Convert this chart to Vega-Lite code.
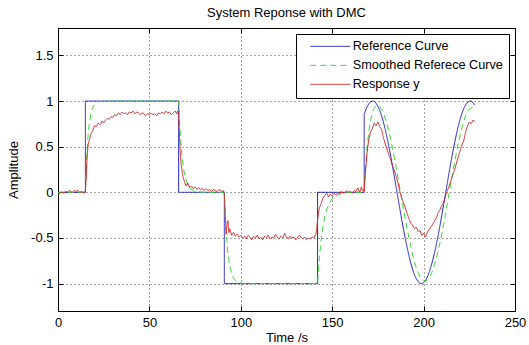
{
  "$schema": "https://vega.github.io/schema/vega-lite/v6.json",
  "width": 457,
  "height": 283,
  "autosize": {"type": "none"},
  "padding": {"left": 58, "top": 28, "right": 14, "bottom": 34},
  "title": {"text": "System Reponse with DMC", "fontSize": 13, "fontWeight": "normal", "color": "black", "offset": 8},
  "data": {"values": [
    {"s":"Reference Curve","t":0,"v":0},{"s":"Reference Curve","t":15,"v":0},{"s":"Reference Curve","t":15,"v":1},{"s":"Reference Curve","t":66,"v":1},{"s":"Reference Curve","t":66,"v":0},{"s":"Reference Curve","t":91,"v":0},{"s":"Reference Curve","t":91,"v":-1},{"s":"Reference Curve","t":142,"v":-1},{"s":"Reference Curve","t":142,"v":0},{"s":"Reference Curve","t":167.5,"v":0},
    {"s":"Reference Curve","t":167.5,"v":0.855},{"s":"Reference Curve","t":168,"v":0.884},{"s":"Reference Curve","t":169,"v":0.933},{"s":"Reference Curve","t":170,"v":0.969},{"s":"Reference Curve","t":171,"v":0.991},{"s":"Reference Curve","t":172,"v":1.0},{"s":"Reference Curve","t":173,"v":0.995},{"s":"Reference Curve","t":174,"v":0.976},{"s":"Reference Curve","t":175,"v":0.943},{"s":"Reference Curve","t":176,"v":0.897},{"s":"Reference Curve","t":177,"v":0.84},{"s":"Reference Curve","t":178,"v":0.77},{"s":"Reference Curve","t":179,"v":0.69},{"s":"Reference Curve","t":180,"v":0.599},{"s":"Reference Curve","t":181,"v":0.501},{"s":"Reference Curve","t":182,"v":0.396},{"s":"Reference Curve","t":183,"v":0.285},{"s":"Reference Curve","t":184,"v":0.17},{"s":"Reference Curve","t":185,"v":0.053},{"s":"Reference Curve","t":186,"v":-0.065},{"s":"Reference Curve","t":187,"v":-0.181},{"s":"Reference Curve","t":188,"v":-0.296},{"s":"Reference Curve","t":189,"v":-0.405},{"s":"Reference Curve","t":190,"v":-0.508},{"s":"Reference Curve","t":191,"v":-0.605},{"s":"Reference Curve","t":192,"v":-0.696},{"s":"Reference Curve","t":193,"v":-0.777},{"s":"Reference Curve","t":194,"v":-0.847},{"s":"Reference Curve","t":195,"v":-0.904},{"s":"Reference Curve","t":196,"v":-0.947},{"s":"Reference Curve","t":197,"v":-0.978},{"s":"Reference Curve","t":198,"v":-0.996},{"s":"Reference Curve","t":199,"v":-1.0},{"s":"Reference Curve","t":200,"v":-0.989},{"s":"Reference Curve","t":201,"v":-0.966},{"s":"Reference Curve","t":202,"v":-0.929},{"s":"Reference Curve","t":203,"v":-0.879},{"s":"Reference Curve","t":204,"v":-0.817},{"s":"Reference Curve","t":205,"v":-0.744},{"s":"Reference Curve","t":206,"v":-0.661},{"s":"Reference Curve","t":207,"v":-0.569},{"s":"Reference Curve","t":208,"v":-0.468},{"s":"Reference Curve","t":209,"v":-0.361},{"s":"Reference Curve","t":210,"v":-0.245},{"s":"Reference Curve","t":211,"v":-0.13},{"s":"Reference Curve","t":212,"v":-0.012},{"s":"Reference Curve","t":213,"v":0.106},{"s":"Reference Curve","t":214,"v":0.222},{"s":"Reference Curve","t":215,"v":0.335},{"s":"Reference Curve","t":216,"v":0.444},{"s":"Reference Curve","t":217,"v":0.546},{"s":"Reference Curve","t":218,"v":0.641},{"s":"Reference Curve","t":219,"v":0.727},{"s":"Reference Curve","t":220,"v":0.802},{"s":"Reference Curve","t":221,"v":0.867},{"s":"Reference Curve","t":222,"v":0.919},{"s":"Reference Curve","t":223,"v":0.959},{"s":"Reference Curve","t":224,"v":0.986},{"s":"Reference Curve","t":225,"v":0.999},{"s":"Reference Curve","t":226,"v":0.998},{"s":"Reference Curve","t":227,"v":0.983},{"s":"Reference Curve","t":228,"v":0.954},
    {"s":"Smoothed Referece Curve","t":0,"v":0},{"s":"Smoothed Referece Curve","t":15,"v":0},{"s":"Smoothed Referece Curve","t":15.5,"v":0.283},{"s":"Smoothed Referece Curve","t":16,"v":0.487},{"s":"Smoothed Referece Curve","t":16.5,"v":0.632},{"s":"Smoothed Referece Curve","t":17,"v":0.736},{"s":"Smoothed Referece Curve","t":18,"v":0.865},{"s":"Smoothed Referece Curve","t":19,"v":0.931},{"s":"Smoothed Referece Curve","t":20,"v":0.964},{"s":"Smoothed Referece Curve","t":21,"v":0.982},{"s":"Smoothed Referece Curve","t":22,"v":0.991},{"s":"Smoothed Referece Curve","t":24,"v":0.998},{"s":"Smoothed Referece Curve","t":26,"v":1.0},{"s":"Smoothed Referece Curve","t":66,"v":1.0},
    {"s":"Smoothed Referece Curve","t":66.5,"v":0.779},{"s":"Smoothed Referece Curve","t":67,"v":0.607},{"s":"Smoothed Referece Curve","t":68,"v":0.368},{"s":"Smoothed Referece Curve","t":69,"v":0.223},{"s":"Smoothed Referece Curve","t":70,"v":0.135},{"s":"Smoothed Referece Curve","t":71,"v":0.082},{"s":"Smoothed Referece Curve","t":72,"v":0.05},{"s":"Smoothed Referece Curve","t":74,"v":0.018},{"s":"Smoothed Referece Curve","t":76,"v":0.007},{"s":"Smoothed Referece Curve","t":80,"v":0},{"s":"Smoothed Referece Curve","t":91,"v":0},
    {"s":"Smoothed Referece Curve","t":91.5,"v":-0.242},{"s":"Smoothed Referece Curve","t":92,"v":-0.426},{"s":"Smoothed Referece Curve","t":92.5,"v":-0.565},{"s":"Smoothed Referece Curve","t":93,"v":-0.671},{"s":"Smoothed Referece Curve","t":94,"v":-0.811},{"s":"Smoothed Referece Curve","t":95,"v":-0.892},{"s":"Smoothed Referece Curve","t":96,"v":-0.938},{"s":"Smoothed Referece Curve","t":97,"v":-0.965},{"s":"Smoothed Referece Curve","t":98,"v":-0.98},{"s":"Smoothed Referece Curve","t":100,"v":-0.994},{"s":"Smoothed Referece Curve","t":102,"v":-0.998},{"s":"Smoothed Referece Curve","t":104,"v":-1},{"s":"Smoothed Referece Curve","t":142,"v":-1},
    {"s":"Smoothed Referece Curve","t":142.5,"v":-0.846},{"s":"Smoothed Referece Curve","t":143,"v":-0.717},{"s":"Smoothed Referece Curve","t":144,"v":-0.513},{"s":"Smoothed Referece Curve","t":145,"v":-0.368},{"s":"Smoothed Referece Curve","t":146,"v":-0.264},{"s":"Smoothed Referece Curve","t":147,"v":-0.189},{"s":"Smoothed Referece Curve","t":148,"v":-0.135},{"s":"Smoothed Referece Curve","t":150,"v":-0.069},{"s":"Smoothed Referece Curve","t":152,"v":-0.036},{"s":"Smoothed Referece Curve","t":155,"v":-0.013},{"s":"Smoothed Referece Curve","t":158,"v":-0.005},{"s":"Smoothed Referece Curve","t":162,"v":0},{"s":"Smoothed Referece Curve","t":167.5,"v":0},
    {"s":"Smoothed Referece Curve","t":168,"v":0.192},{"s":"Smoothed Referece Curve","t":169,"v":0.475},{"s":"Smoothed Referece Curve","t":170,"v":0.663},{"s":"Smoothed Referece Curve","t":171,"v":0.788},{"s":"Smoothed Referece Curve","t":172,"v":0.871},{"s":"Smoothed Referece Curve","t":173,"v":0.921},{"s":"Smoothed Referece Curve","t":174,"v":0.946},{"s":"Smoothed Referece Curve","t":175,"v":0.951},{"s":"Smoothed Referece Curve","t":176,"v":0.938},{"s":"Smoothed Referece Curve","t":177,"v":0.91},{"s":"Smoothed Referece Curve","t":178,"v":0.868},{"s":"Smoothed Referece Curve","t":179,"v":0.813},{"s":"Smoothed Referece Curve","t":180,"v":0.745},{"s":"Smoothed Referece Curve","t":181,"v":0.667},{"s":"Smoothed Referece Curve","t":182,"v":0.579},{"s":"Smoothed Referece Curve","t":183,"v":0.483},{"s":"Smoothed Referece Curve","t":184,"v":0.381},{"s":"Smoothed Referece Curve","t":185,"v":0.273},{"s":"Smoothed Referece Curve","t":186,"v":0.161},{"s":"Smoothed Referece Curve","t":187,"v":0.047},{"s":"Smoothed Referece Curve","t":188,"v":-0.068},{"s":"Smoothed Referece Curve","t":189,"v":-0.181},{"s":"Smoothed Referece Curve","t":190,"v":-0.292},{"s":"Smoothed Referece Curve","t":191,"v":-0.398},{"s":"Smoothed Referece Curve","t":192,"v":-0.499},{"s":"Smoothed Referece Curve","t":193,"v":-0.593},{"s":"Smoothed Referece Curve","t":194,"v":-0.681},{"s":"Smoothed Referece Curve","t":195,"v":-0.759},{"s":"Smoothed Referece Curve","t":196,"v":-0.827},{"s":"Smoothed Referece Curve","t":197,"v":-0.882},{"s":"Smoothed Referece Curve","t":198,"v":-0.924},{"s":"Smoothed Referece Curve","t":199,"v":-0.953},{"s":"Smoothed Referece Curve","t":200,"v":-0.969},{"s":"Smoothed Referece Curve","t":201,"v":-0.973},{"s":"Smoothed Referece Curve","t":202,"v":-0.962},{"s":"Smoothed Referece Curve","t":203,"v":-0.939},{"s":"Smoothed Referece Curve","t":204,"v":-0.903},{"s":"Smoothed Referece Curve","t":205,"v":-0.854},{"s":"Smoothed Referece Curve","t":206,"v":-0.793},{"s":"Smoothed Referece Curve","t":207,"v":-0.721},{"s":"Smoothed Referece Curve","t":208,"v":-0.64},{"s":"Smoothed Referece Curve","t":209,"v":-0.55},{"s":"Smoothed Referece Curve","t":210,"v":-0.452},{"s":"Smoothed Referece Curve","t":211,"v":-0.346},{"s":"Smoothed Referece Curve","t":212,"v":-0.234},{"s":"Smoothed Referece Curve","t":213,"v":-0.121},{"s":"Smoothed Referece Curve","t":214,"v":-0.007},{"s":"Smoothed Referece Curve","t":215,"v":0.108},{"s":"Smoothed Referece Curve","t":216,"v":0.22},{"s":"Smoothed Referece Curve","t":217,"v":0.33},{"s":"Smoothed Referece Curve","t":218,"v":0.436},{"s":"Smoothed Referece Curve","t":219,"v":0.535},{"s":"Smoothed Referece Curve","t":220,"v":0.627},{"s":"Smoothed Referece Curve","t":221,"v":0.71},{"s":"Smoothed Referece Curve","t":222,"v":0.783},{"s":"Smoothed Referece Curve","t":223,"v":0.84},{"s":"Smoothed Referece Curve","t":224,"v":0.885},{"s":"Smoothed Referece Curve","t":225,"v":0.91},{"s":"Smoothed Referece Curve","t":226,"v":0.925},{"s":"Smoothed Referece Curve","t":227,"v":0.93},{"s":"Smoothed Referece Curve","t":228,"v":0.925},
    {"s":"Response y","t":0,"v":-0.02},{"s":"Response y","t":1,"v":-0.01},{"s":"Response y","t":2,"v":0.0},{"s":"Response y","t":3,"v":-0.01},{"s":"Response y","t":4,"v":0.01},{"s":"Response y","t":5,"v":0.0},{"s":"Response y","t":6,"v":0.02},{"s":"Response y","t":7,"v":0.01},{"s":"Response y","t":8,"v":0.0},{"s":"Response y","t":9,"v":0.02},{"s":"Response y","t":10,"v":0.01},{"s":"Response y","t":11,"v":0.02},{"s":"Response y","t":12,"v":0.0},{"s":"Response y","t":13,"v":0.01},{"s":"Response y","t":14,"v":-0.01},{"s":"Response y","t":15,"v":0.02},{"s":"Response y","t":15.5,"v":0.2},{"s":"Response y","t":16,"v":0.42},{"s":"Response y","t":16.5,"v":0.52},{"s":"Response y","t":17,"v":0.56},{"s":"Response y","t":18,"v":0.64},{"s":"Response y","t":19,"v":0.68},{"s":"Response y","t":20,"v":0.73},{"s":"Response y","t":21,"v":0.72},{"s":"Response y","t":22,"v":0.76},{"s":"Response y","t":23,"v":0.74},{"s":"Response y","t":24,"v":0.78},{"s":"Response y","t":25,"v":0.76},{"s":"Response y","t":26,"v":0.79},{"s":"Response y","t":27,"v":0.81},{"s":"Response y","t":28,"v":0.8},{"s":"Response y","t":29,"v":0.83},{"s":"Response y","t":30,"v":0.82},{"s":"Response y","t":31,"v":0.85},{"s":"Response y","t":32,"v":0.84},{"s":"Response y","t":33,"v":0.87},{"s":"Response y","t":34,"v":0.85},{"s":"Response y","t":35,"v":0.88},{"s":"Response y","t":36,"v":0.86},{"s":"Response y","t":37,"v":0.87},{"s":"Response y","t":38,"v":0.85},{"s":"Response y","t":39,"v":0.88},{"s":"Response y","t":40,"v":0.87},{"s":"Response y","t":41,"v":0.89},{"s":"Response y","t":42,"v":0.86},{"s":"Response y","t":43,"v":0.88},{"s":"Response y","t":44,"v":0.87},{"s":"Response y","t":45,"v":0.85},{"s":"Response y","t":46,"v":0.87},{"s":"Response y","t":47,"v":0.86},{"s":"Response y","t":48,"v":0.84},{"s":"Response y","t":49,"v":0.86},{"s":"Response y","t":50,"v":0.85},{"s":"Response y","t":51,"v":0.87},{"s":"Response y","t":52,"v":0.85},{"s":"Response y","t":53,"v":0.86},{"s":"Response y","t":54,"v":0.84},{"s":"Response y","t":55,"v":0.87},{"s":"Response y","t":56,"v":0.86},{"s":"Response y","t":57,"v":0.88},{"s":"Response y","t":58,"v":0.86},{"s":"Response y","t":59,"v":0.89},{"s":"Response y","t":60,"v":0.87},{"s":"Response y","t":61,"v":0.88},{"s":"Response y","t":62,"v":0.85},{"s":"Response y","t":63,"v":0.87},{"s":"Response y","t":64,"v":0.89},{"s":"Response y","t":65,"v":0.86},{"s":"Response y","t":65.5,"v":0.89},{"s":"Response y","t":66,"v":0.85},{"s":"Response y","t":66.5,"v":0.6},{"s":"Response y","t":67,"v":0.39},{"s":"Response y","t":67.5,"v":0.28},{"s":"Response y","t":68,"v":0.22},{"s":"Response y","t":68.5,"v":0.16},{"s":"Response y","t":69,"v":0.13},{"s":"Response y","t":70,"v":0.07},{"s":"Response y","t":71,"v":0.1},{"s":"Response y","t":72,"v":0.05},{"s":"Response y","t":73,"v":0.07},{"s":"Response y","t":74,"v":0.04},{"s":"Response y","t":75,"v":0.06},{"s":"Response y","t":76,"v":0.03},{"s":"Response y","t":77,"v":0.05},{"s":"Response y","t":78,"v":0.03},{"s":"Response y","t":79,"v":0.04},{"s":"Response y","t":80,"v":0.02},{"s":"Response y","t":81,"v":0.04},{"s":"Response y","t":82,"v":0.02},{"s":"Response y","t":83,"v":0.03},{"s":"Response y","t":84,"v":0.01},{"s":"Response y","t":85,"v":0.03},{"s":"Response y","t":86,"v":0.02},{"s":"Response y","t":87,"v":0.01},{"s":"Response y","t":88,"v":0.03},{"s":"Response y","t":89,"v":0.02},{"s":"Response y","t":90,"v":0.01},{"s":"Response y","t":90.5,"v":0.02},{"s":"Response y","t":91,"v":-0.02},{"s":"Response y","t":91.5,"v":-0.25},{"s":"Response y","t":92,"v":-0.46},{"s":"Response y","t":92.5,"v":-0.34},{"s":"Response y","t":93,"v":-0.31},{"s":"Response y","t":93.5,"v":-0.44},{"s":"Response y","t":94,"v":-0.4},{"s":"Response y","t":95,"v":-0.47},{"s":"Response y","t":96,"v":-0.44},{"s":"Response y","t":97,"v":-0.48},{"s":"Response y","t":98,"v":-0.46},{"s":"Response y","t":99,"v":-0.49},{"s":"Response y","t":100,"v":-0.47},{"s":"Response y","t":101,"v":-0.5},{"s":"Response y","t":102,"v":-0.48},{"s":"Response y","t":103,"v":-0.51},{"s":"Response y","t":104,"v":-0.47},{"s":"Response y","t":105,"v":-0.49},{"s":"Response y","t":106,"v":-0.52},{"s":"Response y","t":107,"v":-0.48},{"s":"Response y","t":108,"v":-0.5},{"s":"Response y","t":109,"v":-0.47},{"s":"Response y","t":110,"v":-0.51},{"s":"Response y","t":111,"v":-0.49},{"s":"Response y","t":112,"v":-0.52},{"s":"Response y","t":113,"v":-0.48},{"s":"Response y","t":114,"v":-0.5},{"s":"Response y","t":115,"v":-0.47},{"s":"Response y","t":116,"v":-0.51},{"s":"Response y","t":117,"v":-0.49},{"s":"Response y","t":118,"v":-0.5},{"s":"Response y","t":119,"v":-0.46},{"s":"Response y","t":120,"v":-0.49},{"s":"Response y","t":121,"v":-0.51},{"s":"Response y","t":122,"v":-0.48},{"s":"Response y","t":123,"v":-0.5},{"s":"Response y","t":124,"v":-0.45},{"s":"Response y","t":125,"v":-0.49},{"s":"Response y","t":126,"v":-0.51},{"s":"Response y","t":127,"v":-0.48},{"s":"Response y","t":128,"v":-0.5},{"s":"Response y","t":129,"v":-0.49},{"s":"Response y","t":130,"v":-0.52},{"s":"Response y","t":131,"v":-0.5},{"s":"Response y","t":132,"v":-0.47},{"s":"Response y","t":133,"v":-0.49},{"s":"Response y","t":134,"v":-0.51},{"s":"Response y","t":135,"v":-0.49},{"s":"Response y","t":136,"v":-0.52},{"s":"Response y","t":137,"v":-0.5},{"s":"Response y","t":138,"v":-0.51},{"s":"Response y","t":139,"v":-0.49},{"s":"Response y","t":140,"v":-0.5},{"s":"Response y","t":141,"v":-0.46},{"s":"Response y","t":141.5,"v":-0.42},{"s":"Response y","t":142,"v":-0.3},{"s":"Response y","t":142.5,"v":-0.22},{"s":"Response y","t":143,"v":-0.17},{"s":"Response y","t":144,"v":-0.12},{"s":"Response y","t":145,"v":-0.06},{"s":"Response y","t":146,"v":-0.03},{"s":"Response y","t":147,"v":-0.01},{"s":"Response y","t":148,"v":-0.05},{"s":"Response y","t":149,"v":-0.02},{"s":"Response y","t":150,"v":-0.04},{"s":"Response y","t":151,"v":-0.01},{"s":"Response y","t":152,"v":-0.03},{"s":"Response y","t":153,"v":0.0},{"s":"Response y","t":154,"v":-0.02},{"s":"Response y","t":155,"v":0.01},{"s":"Response y","t":156,"v":-0.01},{"s":"Response y","t":157,"v":0.0},{"s":"Response y","t":158,"v":0.02},{"s":"Response y","t":159,"v":0.0},{"s":"Response y","t":160,"v":0.01},{"s":"Response y","t":161,"v":-0.01},{"s":"Response y","t":162,"v":0.02},{"s":"Response y","t":163,"v":0.01},{"s":"Response y","t":164,"v":0.05},{"s":"Response y","t":165,"v":0.0},{"s":"Response y","t":166,"v":0.06},{"s":"Response y","t":166.5,"v":0.02},{"s":"Response y","t":167,"v":0.03},{"s":"Response y","t":167.5,"v":0.01},{"s":"Response y","t":168,"v":0.18},{"s":"Response y","t":168.5,"v":0.3},{"s":"Response y","t":169,"v":0.42},{"s":"Response y","t":170,"v":0.58},{"s":"Response y","t":171,"v":0.66},{"s":"Response y","t":172,"v":0.7},{"s":"Response y","t":173,"v":0.76},{"s":"Response y","t":174,"v":0.73},{"s":"Response y","t":175,"v":0.77},{"s":"Response y","t":176,"v":0.72},{"s":"Response y","t":177,"v":0.69},{"s":"Response y","t":178,"v":0.6},{"s":"Response y","t":179,"v":0.53},{"s":"Response y","t":180,"v":0.47},{"s":"Response y","t":181,"v":0.41},{"s":"Response y","t":182,"v":0.36},{"s":"Response y","t":183,"v":0.29},{"s":"Response y","t":184,"v":0.24},{"s":"Response y","t":185,"v":0.17},{"s":"Response y","t":186,"v":0.1},{"s":"Response y","t":187,"v":0.01},{"s":"Response y","t":188,"v":-0.06},{"s":"Response y","t":189,"v":-0.12},{"s":"Response y","t":190,"v":-0.17},{"s":"Response y","t":191,"v":-0.23},{"s":"Response y","t":192,"v":-0.29},{"s":"Response y","t":193,"v":-0.34},{"s":"Response y","t":194,"v":-0.36},{"s":"Response y","t":195,"v":-0.4},{"s":"Response y","t":196,"v":-0.38},{"s":"Response y","t":197,"v":-0.43},{"s":"Response y","t":198,"v":-0.42},{"s":"Response y","t":199,"v":-0.47},{"s":"Response y","t":200,"v":-0.45},{"s":"Response y","t":201,"v":-0.49},{"s":"Response y","t":202,"v":-0.44},{"s":"Response y","t":203,"v":-0.41},{"s":"Response y","t":204,"v":-0.38},{"s":"Response y","t":205,"v":-0.35},{"s":"Response y","t":206,"v":-0.31},{"s":"Response y","t":207,"v":-0.28},{"s":"Response y","t":208,"v":-0.22},{"s":"Response y","t":209,"v":-0.19},{"s":"Response y","t":210,"v":-0.14},{"s":"Response y","t":211,"v":-0.11},{"s":"Response y","t":212,"v":-0.04},{"s":"Response y","t":213,"v":0.02},{"s":"Response y","t":214,"v":0.07},{"s":"Response y","t":215,"v":0.13},{"s":"Response y","t":216,"v":0.19},{"s":"Response y","t":217,"v":0.25},{"s":"Response y","t":218,"v":0.32},{"s":"Response y","t":219,"v":0.39},{"s":"Response y","t":220,"v":0.46},{"s":"Response y","t":221,"v":0.52},{"s":"Response y","t":222,"v":0.57},{"s":"Response y","t":223,"v":0.66},{"s":"Response y","t":224,"v":0.73},{"s":"Response y","t":225,"v":0.77},{"s":"Response y","t":226,"v":0.75},{"s":"Response y","t":227,"v":0.79},{"s":"Response y","t":228,"v":0.78}
  ]},
  "encoding": {
    "x": {"field": "t", "type": "quantitative", "scale": {"domain": [0, 250], "nice": false}},
    "y": {"field": "v", "type": "quantitative", "scale": {"domain": [-1.3, 1.8], "nice": false}},
    "color": {"field": "s", "type": "nominal", "scale": {"domain": ["Reference Curve", "Smoothed Referece Curve", "Response y"], "range": ["#1c1cc8", "#3ad83a", "#d82424"]}, "legend": {"title": null}},
    "strokeDash": {"field": "s", "type": "nominal", "scale": {"domain": ["Reference Curve", "Smoothed Referece Curve", "Response y"], "range": [[1, 0], [6, 4], [1, 0]]}, "legend": {"title": null}}
  },
  "layer": [
    {
      "transform": [{"filter": "datum.s == 'Reference Curve'"}],
      "mark": {"type": "line", "strokeWidth": 1, "interpolate": "linear"},
      "encoding": {
        "x": {"field": "t", "type": "quantitative", "title": "Time /s", "axis": {"values": [0, 50, 100, 150, 200, 250]}},
        "y": {"field": "v", "type": "quantitative", "title": "Amplitude", "axis": {"values": [-1, -0.5, 0, 0.5, 1, 1.5], "labelExpr": "datum.value + ''"}}
      }
    },
    {
      "transform": [{"filter": "datum.s == 'Smoothed Referece Curve'"}],
      "mark": {"type": "line", "strokeWidth": 1},
      "encoding": {"x": {"field": "t", "type": "quantitative", "axis": null}, "y": {"field": "v", "type": "quantitative", "axis": null}}
    },
    {
      "transform": [{"filter": "datum.s == 'Response y'"}],
      "mark": {"type": "line", "strokeWidth": 1},
      "encoding": {"x": {"field": "t", "type": "quantitative", "axis": null}, "y": {"field": "v", "type": "quantitative", "axis": null}}
    },
    {
      "transform": [{"filter": "datum.s == 'Response y'"}],
      "mark": {"type": "line", "strokeWidth": 1, "opacity": 0},
      "encoding": {
        "x": {"field": "t", "type": "quantitative", "axis": {"orient": "top", "values": [0, 50, 100, 150, 200, 250], "labels": false, "grid": false, "title": null}},
        "y": {"field": "v", "type": "quantitative", "axis": {"orient": "right", "values": [-1, -0.5, 0, 0.5, 1, 1.5], "labels": false, "grid": false, "title": null}}
      }
    }
  ],
  "resolve": {"axis": {"x": "independent", "y": "independent"}},
  "config": {
    "font": "Liberation Sans",
    "view": {"stroke": "black", "strokeWidth": 1},
    "axis": {
      "domainColor": "black",
      "tickColor": "black",
      "tickSize": -5,
      "labelColor": "black",
      "labelFontSize": 13,
      "labelPadding": 10,
      "titleFontSize": 13,
      "titleFontWeight": "normal",
      "titleColor": "black",
      "grid": true,
      "gridColor": "#333333",
      "gridDash": [1, 3],
      "gridOpacity": 0.9,
      "labelFlush": false,
      "labelOverlap": false
    },
    "axisX": {"titlePadding": 2},
    "axisY": {"titlePadding": 10},
    "legend": {
      "orient": "top-right",
      "offset": 6,
      "strokeColor": "black",
      "fillColor": "white",
      "padding": 6,
      "symbolType": "M-4,0H4",
      "symbolSize": 100,
      "symbolOffset": 22,
      "symbolStrokeWidth": 1,
      "labelFontSize": 12.7,
      "labelColor": "black",
      "labelOffset": 16,
      "rowPadding": 5,
      "labelLimit": 300
    }
  }
}
